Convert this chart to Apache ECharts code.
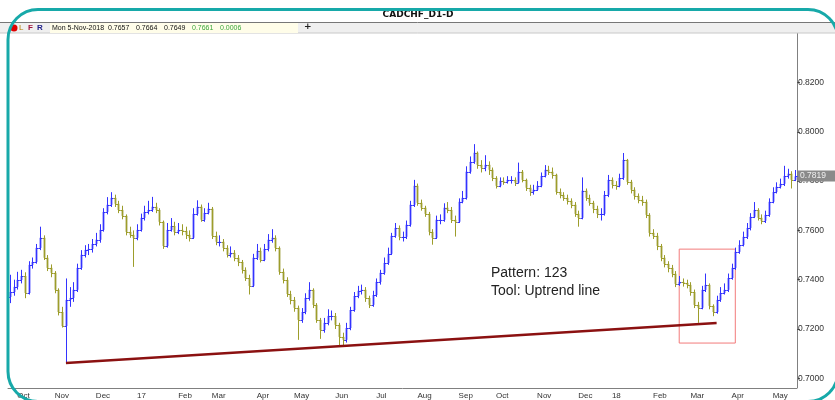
<!DOCTYPE html>
<html>
<head>
<meta charset="utf-8">
<script src="https://cdn.jsdelivr.net/npm/echarts@6/dist/echarts.min.js"></script>
<style>
  html, body { margin: 0; padding: 0; background: #fff; }
  #main { width: 835px; height: 400px; }
</style>
</head>
<body>
<div id="main"></div>
<script>
// CADCHF daily, one bar = two trading days, Sep 2016 .. May 2018
const firstOpen = 0.7330
const closes = [
  0.7350, 0.7371, 0.7399, 0.7415, 0.7346, 0.7460, 0.7472, 0.7529, 0.7570, 0.7489,
  0.7448, 0.7428, 0.7359, 0.7269, 0.7212, 0.7318, 0.7326, 0.7359, 0.7448, 0.7501,
  0.7521, 0.7525, 0.7545, 0.7562, 0.7602, 0.7675, 0.7704, 0.7732, 0.7708, 0.7683,
  0.7659, 0.7594, 0.7582, 0.7570, 0.7602, 0.7651, 0.7675, 0.7683, 0.7696, 0.7683,
  0.7635, 0.7537, 0.7602, 0.7618, 0.7594, 0.7602, 0.7598, 0.7582, 0.7570, 0.7667,
  0.7696, 0.7643, 0.7671, 0.7688, 0.7578, 0.7554, 0.7554, 0.7529, 0.7501, 0.7509,
  0.7489, 0.7472, 0.7440, 0.7407, 0.7375, 0.7489, 0.7517, 0.7480, 0.7525, 0.7562,
  0.7570, 0.7529, 0.7432, 0.7399, 0.7342, 0.7318, 0.7286, 0.7237, 0.7269, 0.7326,
  0.7359, 0.7298, 0.7237, 0.7196, 0.7225, 0.7253, 0.7253, 0.7217, 0.7168, 0.7156,
  0.7204, 0.7277, 0.7334, 0.7355, 0.7359, 0.7326, 0.7298, 0.7338, 0.7391, 0.7428,
  0.7468, 0.7505, 0.7578, 0.7610, 0.7574, 0.7574, 0.7623, 0.7704, 0.7781, 0.7712,
  0.7692, 0.7667, 0.7594, 0.7570, 0.7643, 0.7643, 0.7692, 0.7683, 0.7643, 0.7635,
  0.7716, 0.7732, 0.7838, 0.7878, 0.7915, 0.7866, 0.7854, 0.7866, 0.7846, 0.7813,
  0.7781, 0.7801, 0.7797, 0.7805, 0.7805, 0.7793, 0.7838, 0.7805, 0.7773, 0.7756,
  0.7765, 0.7781, 0.7821, 0.7846, 0.7838, 0.7826, 0.7756, 0.7744, 0.7732, 0.7720,
  0.7704, 0.7667, 0.7651, 0.7761, 0.7732, 0.7712, 0.7688, 0.7667, 0.7667, 0.7744,
  0.7805, 0.7785, 0.7781, 0.7813, 0.7886, 0.7797, 0.7765, 0.7740, 0.7724, 0.7716,
  0.7663, 0.7590, 0.7578, 0.7537, 0.7489, 0.7464, 0.7448, 0.7424, 0.7383, 0.7391,
  0.7387, 0.7379, 0.7350, 0.7298, 0.7286, 0.7359, 0.7379, 0.7294, 0.7269, 0.7318,
  0.7346, 0.7359, 0.7407, 0.7448, 0.7513, 0.7541, 0.7574, 0.7610, 0.7655, 0.7683,
  0.7651, 0.7639, 0.7663, 0.7716, 0.7756, 0.7777, 0.7789, 0.7821, 0.7830, 0.7805, 0.7819
]
const highs = [
  0.7420, 0.7400, 0.7432, 0.7440, 0.7430, 0.7475, 0.7490, 0.7545, 0.7615, 0.7580,
  0.7500, 0.7462, 0.7435, 0.7365, 0.7290, 0.7405, 0.7370, 0.7390, 0.7465, 0.7520,
  0.7540, 0.7545, 0.7565, 0.7590, 0.7625, 0.7690, 0.7735, 0.7755, 0.7745, 0.7720,
  0.7700, 0.7665, 0.7615, 0.7600, 0.7625, 0.7668, 0.7700, 0.7720, 0.7736, 0.7712,
  0.7690, 0.7640, 0.7630, 0.7650, 0.7635, 0.7630, 0.7625, 0.7615, 0.7600, 0.7690,
  0.7722, 0.7705, 0.7690, 0.7712, 0.7695, 0.7595, 0.7580, 0.7565, 0.7540, 0.7535,
  0.7520, 0.7500, 0.7480, 0.7450, 0.7420, 0.7505, 0.7545, 0.7530, 0.7545, 0.7585,
  0.7605, 0.7580, 0.7535, 0.7445, 0.7410, 0.7355, 0.7330, 0.7295, 0.7285, 0.7345,
  0.7390, 0.7365, 0.7305, 0.7245, 0.7245, 0.7280, 0.7275, 0.7265, 0.7225, 0.7185,
  0.7225, 0.7290, 0.7350, 0.7375, 0.7380, 0.7370, 0.7335, 0.7355, 0.7405, 0.7440,
  0.7490, 0.7530, 0.7590, 0.7630, 0.7620, 0.7595, 0.7640, 0.7720, 0.7805, 0.7790,
  0.7725, 0.7700, 0.7675, 0.7605, 0.7660, 0.7665, 0.7710, 0.7715, 0.7695, 0.7660,
  0.7730, 0.7760, 0.7860, 0.7900, 0.7950, 0.7920, 0.7885, 0.7905, 0.7880, 0.7855,
  0.7820, 0.7815, 0.7815, 0.7820, 0.7820, 0.7815, 0.7875, 0.7845, 0.7810, 0.7785,
  0.7785, 0.7800, 0.7835, 0.7865, 0.7862, 0.7855, 0.7830, 0.7770, 0.7755, 0.7745,
  0.7730, 0.7715, 0.7680, 0.7815, 0.7770, 0.7745, 0.7720, 0.7700, 0.7690, 0.7760,
  0.7825, 0.7815, 0.7800, 0.7830, 0.7914, 0.7890, 0.7805, 0.7775, 0.7750, 0.7740,
  0.7725, 0.7670, 0.7605, 0.7590, 0.7545, 0.7500, 0.7475, 0.7460, 0.7435, 0.7415,
  0.7405, 0.7400, 0.7390, 0.7360, 0.7310, 0.7375, 0.7425, 0.7385, 0.7300, 0.7335,
  0.7370, 0.7385, 0.7425, 0.7465, 0.7530, 0.7560, 0.7595, 0.7630, 0.7670, 0.7715,
  0.7690, 0.7665, 0.7680, 0.7730, 0.7775, 0.7795, 0.7810, 0.7862, 0.7850, 0.7840, 0.7845
]
const lows = [
  0.7305, 0.7335, 0.7360, 0.7385, 0.7325, 0.7340, 0.7445, 0.7465, 0.7520, 0.7480,
  0.7435, 0.7410, 0.7345, 0.7255, 0.7206, 0.7062, 0.7290, 0.7310, 0.7350, 0.7440,
  0.7490, 0.7500, 0.7510, 0.7535, 0.7550, 0.7595, 0.7665, 0.7695, 0.7695, 0.7670,
  0.7645, 0.7580, 0.7570, 0.7452, 0.7560, 0.7595, 0.7640, 0.7665, 0.7675, 0.7670,
  0.7620, 0.7525, 0.7530, 0.7595, 0.7580, 0.7585, 0.7580, 0.7565, 0.7555, 0.7565,
  0.7660, 0.7635, 0.7635, 0.7665, 0.7565, 0.7540, 0.7535, 0.7515, 0.7490, 0.7490,
  0.7475, 0.7455, 0.7425, 0.7395, 0.7340, 0.7370, 0.7480, 0.7470, 0.7475, 0.7515,
  0.7550, 0.7515, 0.7420, 0.7385, 0.7330, 0.7300, 0.7270, 0.7156, 0.7225, 0.7260,
  0.7315, 0.7285, 0.7225, 0.7160, 0.7185, 0.7215, 0.7235, 0.7200, 0.7130, 0.7130,
  0.7145, 0.7195, 0.7270, 0.7325, 0.7340, 0.7310, 0.7285, 0.7290, 0.7330, 0.7380,
  0.7420, 0.7460, 0.7500, 0.7570, 0.7560, 0.7555, 0.7565, 0.7615, 0.7695, 0.7700,
  0.7680, 0.7655, 0.7580, 0.7542, 0.7565, 0.7625, 0.7635, 0.7670, 0.7630, 0.7575,
  0.7630, 0.7710, 0.7725, 0.7830, 0.7870, 0.7850, 0.7835, 0.7840, 0.7825, 0.7800,
  0.7770, 0.7775, 0.7785, 0.7790, 0.7790, 0.7780, 0.7790, 0.7795, 0.7760, 0.7740,
  0.7745, 0.7760, 0.7775, 0.7815, 0.7825, 0.7810, 0.7745, 0.7730, 0.7720, 0.7705,
  0.7690, 0.7655, 0.7615, 0.7645, 0.7720, 0.7700, 0.7670, 0.7650, 0.7640, 0.7660,
  0.7735, 0.7770, 0.7765, 0.7775, 0.7805, 0.7785, 0.7750, 0.7725, 0.7710, 0.7700,
  0.7650, 0.7575, 0.7565, 0.7520, 0.7475, 0.7450, 0.7430, 0.7410, 0.7370, 0.7375,
  0.7372, 0.7365, 0.7335, 0.7285, 0.7225, 0.7280, 0.7350, 0.7280, 0.7252, 0.7262,
  0.7310, 0.7340, 0.7350, 0.7400, 0.7440, 0.7505, 0.7535, 0.7565, 0.7600, 0.7650,
  0.7640, 0.7625, 0.7630, 0.7655, 0.7710, 0.7750, 0.7770, 0.7780, 0.7810, 0.7770, 0.7800
]
// bar index where each month starts, and its label
const monthBars = [2, 12, 23, 34, 45, 54, 66, 76, 87, 98, 109, 120, 130, 141, 152, 161, 172, 182, 193, 204]
const monthNames = ['Oct', 'Nov', 'Dec', '17', 'Feb', 'Mar', 'Apr', 'May', 'Jun', 'Jul', 'Aug', 'Sep', 'Oct', 'Nov', 'Dec', '18', 'Feb', 'Mar', 'Apr', 'May']
// uptrend line (bar, price) and the pattern box
const trendLine = [[15, 0.7062], [189, 0.7224]]
const boxBars = [179, 194]
const boxPrices = [0.7524, 0.7143]
const lastPrice = 0.7819
// header readout: date, O, H, L (black) then C, change (green)
const infoBlack = ['Mon 5-Nov-2018', '0.7657', '0.7664', '0.7649']
const infoGreen = ['0.7661', '0.0006']

let chart = echarts.init(document.getElementById('main'))

let cats = closes.map((c, i) => String(i))
let bars = closes.map((c, i) => [i, i ? closes[i - 1] : firstOpen, highs[i], lows[i], c])
let isMonth = (i) => monthBars.indexOf(i) >= 0

let renderBar = function (params, api) {
  let idx = api.value(0)
  let o = api.coord([idx, api.value(1)])
  let h = api.coord([idx, api.value(2)])[1]
  let l = api.coord([idx, api.value(3)])[1]
  let c = api.coord([idx, api.value(4)])[1]
  let x = Math.round(o[0]) + 0.5
  let up = api.value(4) >= api.value(1)
  let col = up ? '#3333ff' : '#9d9d2b'
  let fill = up ? 'rgba(110,110,255,0.5)' : 'rgba(175,175,95,0.5)'
  let top = Math.min(o[1], c)
  return {
    type: 'group',
    children: [
      { type: 'rect', shape: { x: x - 1.5, y: top, width: 3, height: Math.max(Math.abs(c - o[1]), 1) }, style: { fill: fill } },
      { type: 'line', shape: { x1: x, y1: h, x2: x, y2: l }, style: { stroke: col, lineWidth: 1 } },
      { type: 'line', shape: { x1: x - 2, y1: Math.round(o[1]) + 0.5, x2: x, y2: Math.round(o[1]) + 0.5 }, style: { stroke: col, lineWidth: 1 } },
      { type: 'line', shape: { x1: x, y1: Math.round(c) + 0.5, x2: x + 2, y2: Math.round(c) + 0.5 }, style: { stroke: col, lineWidth: 1 } }
    ]
  }
}

let option = {
  animation: false,
  backgroundColor: '#fff',
  grid: { left: 8, right: 38, top: 33.2, bottom: 21.7 },
  xAxis: {
    type: 'category',
    data: cats,
    offset: 10,
    boundaryGap: true,
    axisLine: { lineStyle: { color: '#808080', width: 1 } },
    axisTick: { alignWithLabel: true, interval: (i) => isMonth(i), length: 3, lineStyle: { color: '#555' } },
    axisLabel: {
      interval: (i) => isMonth(i),
      formatter: (v, i) => monthNames[monthBars.indexOf(i)] || '',
      align: 'left',
      margin: 3,
      fontFamily: 'Liberation Sans',
      fontSize: 8,
      color: '#333'
    },
    splitLine: { show: false }
  },
  yAxis: {
    type: 'value',
    position: 'right',
    min: 0.70,
    max: 0.84,
    interval: 0.02,
    axisLine: { show: true, lineStyle: { color: '#808080' } },
    axisTick: { show: true, length: 3, lineStyle: { color: '#555' } },
    axisLabel: {
      formatter: (v) => v.toFixed(4),
      showMaxLabel: false,
      margin: 1,
      fontFamily: 'Liberation Sans',
      fontSize: 8.5,
      color: '#333'
    },
    splitLine: { show: false }
  },
  series: [
    {
      type: 'custom',
      renderItem: renderBar,
      encode: { x: 0, y: [1, 2, 3, 4] },
      data: bars,
      z: 2
    },
    {
      type: 'line',
      data: trendLine,
      symbol: 'none',
      lineStyle: { color: '#8b1111', width: 2.5 },
      z: 3,
      markArea: {
        silent: true,
        itemStyle: { color: 'rgba(0,0,0,0)', borderColor: '#f27b7b', borderWidth: 1 },
        data: [[{ coord: [boxBars[0], boxPrices[0]] }, { coord: [boxBars[1], boxPrices[1]] }]]
      }
    }
  ]
}
chart.setOption(option)

// header, annotation text, last price box and the rounded frame
let py = chart.convertToPixel({ yAxisIndex: 0 }, lastPrice)
let hdrFont = '7px "Liberation Sans"'
let infoX = [52, 108, 136, 164, 192, 220]
let infoTexts = infoBlack.concat(infoGreen).map((t, i) => ({
  type: 'text', x: infoX[i], y: 24.5,
  style: { text: t, font: hdrFont, fill: i < infoBlack.length ? '#111' : '#3aa83a' },
  z: 52
}))
chart.setOption({
  graphic: [
    { type: 'rect', shape: { x: 0, y: 22, width: 835, height: 11 }, style: { fill: '#efefef' }, z: 50 },
    { type: 'line', shape: { x1: 0, y1: 22.5, x2: 835, y2: 22.5 }, style: { stroke: '#777', lineWidth: 1 }, z: 51 },
    { type: 'line', shape: { x1: 0, y1: 33, x2: 835, y2: 33 }, style: { stroke: '#c8c8c8', lineWidth: 1 }, z: 51 },
    { type: 'rect', shape: { x: 50, y: 23, width: 248, height: 10 }, style: { fill: '#fffde9' }, z: 51 },
    { type: 'circle', shape: { cx: 14, cy: 28, r: 3.5 }, style: { fill: '#e00000' }, z: 52 },
    { type: 'text', x: 19, y: 24, style: { text: 'L', font: '8px "Liberation Sans"', fill: '#b07a00' }, z: 52 },
    { type: 'text', x: 28, y: 24, style: { text: 'F', font: 'bold 8px "Liberation Sans"', fill: '#a0103a' }, z: 52 },
    { type: 'text', x: 37, y: 24, style: { text: 'R', font: 'bold 8px "Liberation Sans"', fill: '#20208a' }, z: 52 }
  ].concat(infoTexts, [
    { type: 'text', x: 304, y: 22.5, style: { text: '+', font: 'bold 9px "DejaVu Sans"', fill: '#222' }, z: 52 },
    { type: 'text', x: 418, y: 10, style: { text: 'CADCHF_D1-D', font: 'bold 9px "DejaVu Sans"', fill: '#111', align: 'center' }, z: 52 },
    { type: 'line', shape: { x1: 797.5, y1: 378, x2: 797.5, y2: 388 }, style: { stroke: '#808080', lineWidth: 1 }, z: 52 },
    { type: 'text', x: 491, y: 266, style: { text: 'Pattern: 123', font: '14px "Liberation Sans"', fill: '#222' }, z: 52 },
    { type: 'text', x: 491, y: 284, style: { text: 'Tool: Uptrend line', font: '14px "Liberation Sans"', fill: '#222' }, z: 52 },
    { type: 'rect', shape: { x: 798, y: Math.round(py) - 5.5, width: 37, height: 11 }, style: { fill: '#8a8a8a' }, z: 60 },
    { type: 'text', x: 800, y: Math.round(py) - 4.5, style: { text: lastPrice.toFixed(4), font: '8.5px "Liberation Sans"', fill: '#f0f0f0' }, z: 61 },
    { type: 'rect', shape: { x: 8, y: 9.5, width: 830, height: 392, r: 30 }, style: { fill: 'none', stroke: '#17a9a9', lineWidth: 3 }, z: 100 }
  ])
})
</script>
</body>
</html>
